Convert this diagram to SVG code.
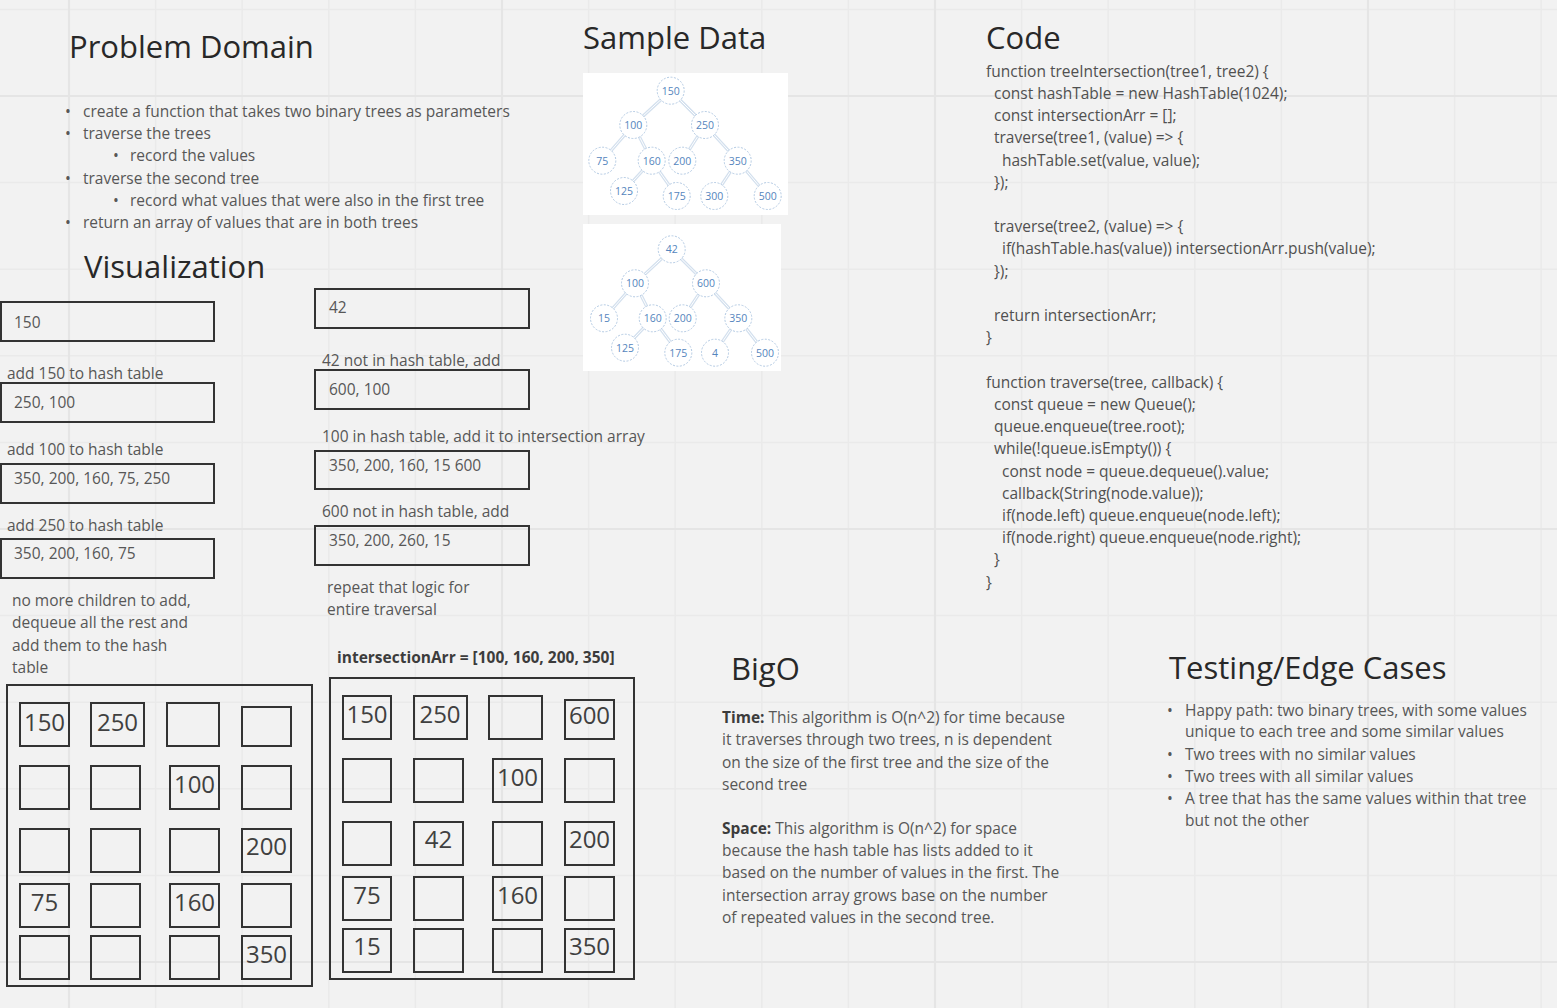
<svg xmlns="http://www.w3.org/2000/svg" width="1557" height="1008" viewBox="0 0 1557 1008">
<style>
text{font-family:"Open Sans","Liberation Sans",sans-serif;}
.title{font-size:31px;fill:#282828;}
.body{font-size:15.5px;fill:#575757;}
.code{font-size:15.5px;fill:#505050;}
.bold{font-weight:bold;fill:#3c3c3c;}
.box{fill:none;stroke:#333;stroke-width:2;}
.cell{fill:none;stroke:#333;stroke-width:2;}
.num{font-size:24px;fill:#404040;text-anchor:middle;}
.tn{fill:#fff;stroke:#b3cae3;stroke-width:1;stroke-dasharray:2 1.5;}
.tt{font-size:10.5px;fill:#5585bd;text-anchor:middle;}
.edge{stroke:#d3e0ee;stroke-width:3.2;}
.edgei{stroke:#ffffff;stroke-width:1;}
.panel{fill:#ffffff;}
</style>
<rect x="0" y="0" width="1557" height="1008" fill="#f2f2f2"/>
<g id="grid" fill="none">
<path stroke="#eaeaea" stroke-width="1.5" d="M155.6 0V1008M242.2 0V1008M328.8 0V1008M415.4 0V1008M588.6 0V1008M675.2 0V1008M761.8 0V1008M848.4 0V1008M1021.6 0V1008M1108.2 0V1008M1194.8 0V1008M1281.4 0V1008M1454.6 0V1008M1541.2 0V1008M0 9.4H1557M0 182.6H1557M0 269.2H1557M0 355.8H1557M0 442.4H1557M0 615.6H1557M0 702.2H1557M0 788.8H1557M0 875.4H1557"/>
<path stroke="#e5e5e5" stroke-width="2.2" d="M69 0V1008M502 0V1008M935 0V1008M1368 0V1008M0 96H1557M0 529H1557M0 962H1557"/>
</g>

<g id="problem-domain">
<text class="title" x="69" y="58">Problem Domain</text>
<g class="body">
<text x="65" y="117">•</text><text x="83" y="117">create a function that takes two binary trees as parameters</text>
<text x="65" y="139">•</text><text x="83" y="139">traverse the trees</text>
<text x="113" y="161">•</text><text x="130" y="161">record the values</text>
<text x="65" y="184">•</text><text x="83" y="184">traverse the second tree</text>
<text x="113" y="206">•</text><text x="130" y="206">record what values that were also in the first tree</text>
<text x="65" y="228">•</text><text x="83" y="228">return an array of values that are in both trees</text>
</g>
</g>

<g id="visualization-title"><text class="title" x="84" y="278">Visualization</text></g>

<g id="queue1">
<rect class="box" x="1" y="302" width="213" height="39"/><text class="body" x="14" y="328">150</text>
<text class="body" x="7" y="379">add 150 to hash table</text>
<rect class="box" x="1" y="383" width="213" height="39"/><text class="body" x="14" y="408">250, 100</text>
<text class="body" x="7" y="455">add 100 to hash table</text>
<rect class="box" x="1" y="464" width="213" height="39"/><text class="body" x="14" y="484">350, 200, 160, 75, 250</text>
<text class="body" x="7" y="531">add 250 to hash table</text>
<rect class="box" x="1" y="539" width="213" height="39"/><text class="body" x="14" y="559">350, 200, 160, 75</text>
<text class="body" x="12" y="606">no more children to add,</text>
<text class="body" x="12" y="628">dequeue all the rest and</text>
<text class="body" x="12" y="651">add them to the hash</text>
<text class="body" x="12" y="673">table</text>
</g>

<g id="queue2">
<rect class="box" x="315" y="289" width="214" height="39"/><text class="body" x="329" y="313">42</text>
<text class="body" x="322" y="366">42 not in hash table, add</text>
<rect class="box" x="315" y="370" width="214" height="39"/><text class="body" x="329" y="395">600, 100</text>
<text class="body" x="322" y="442">100 in hash table, add it to intersection array</text>
<rect class="box" x="315" y="451" width="214" height="38"/><text class="body" x="329" y="471">350, 200, 160, 15 600</text>
<text class="body" x="322" y="517">600 not in hash table, add</text>
<rect class="box" x="315" y="526" width="214" height="39"/><text class="body" x="329" y="546">350, 200, 260, 15</text>
<text class="body" x="327" y="593">repeat that logic for</text>
<text class="body" x="327" y="615">entire traversal</text>
<text class="body bold" x="337" y="663">intersectionArr = [100, 160, 200, 350]</text>
</g>

<g id="hash-table-1">
<rect class="box" x="7" y="685" width="305" height="301"/>
<rect class="cell" x="20" y="703" width="49" height="43"/>
<rect class="cell" x="91" y="703" width="53" height="43"/>
<rect class="cell" x="167" y="703" width="52" height="43"/>
<rect class="cell" x="242" y="707" width="49" height="39"/>
<rect class="cell" x="20" y="766" width="49" height="43"/>
<rect class="cell" x="91" y="766" width="49" height="43"/>
<rect class="cell" x="170" y="766" width="49" height="43"/>
<rect class="cell" x="242" y="766" width="49" height="43"/>
<rect class="cell" x="20" y="829" width="49" height="43"/>
<rect class="cell" x="91" y="829" width="49" height="43"/>
<rect class="cell" x="170" y="829" width="49" height="43"/>
<rect class="cell" x="242" y="829" width="49" height="43"/>
<rect class="cell" x="20" y="884" width="49" height="43"/>
<rect class="cell" x="91" y="884" width="49" height="43"/>
<rect class="cell" x="170" y="884" width="49" height="43"/>
<rect class="cell" x="242" y="884" width="49" height="43"/>
<rect class="cell" x="20" y="936" width="49" height="43"/>
<rect class="cell" x="91" y="936" width="49" height="43"/>
<rect class="cell" x="170" y="936" width="49" height="43"/>
<rect class="cell" x="242" y="936" width="49" height="43"/>
<text class="num" x="44.5" y="731">150</text>
<text class="num" x="117.5" y="731">250</text>
<text class="num" x="194.5" y="793">100</text>
<text class="num" x="266.5" y="855">200</text>
<text class="num" x="44.5" y="911">75</text>
<text class="num" x="194.5" y="911">160</text>
<text class="num" x="266.5" y="963">350</text>
</g>

<g id="hash-table-2">
<rect class="box" x="330" y="678" width="304" height="301"/>
<rect class="cell" x="343" y="696" width="48" height="43"/>
<rect class="cell" x="414" y="696" width="53" height="43"/>
<rect class="cell" x="489" y="696" width="53" height="43"/>
<rect class="cell" x="565" y="700" width="49" height="39"/>
<rect class="cell" x="343" y="759" width="48" height="43"/>
<rect class="cell" x="414" y="759" width="49" height="43"/>
<rect class="cell" x="493" y="759" width="49" height="43"/>
<rect class="cell" x="565" y="759" width="49" height="43"/>
<rect class="cell" x="343" y="822" width="48" height="43"/>
<rect class="cell" x="414" y="822" width="49" height="43"/>
<rect class="cell" x="493" y="822" width="49" height="43"/>
<rect class="cell" x="565" y="822" width="49" height="43"/>
<rect class="cell" x="343" y="877" width="48" height="43"/>
<rect class="cell" x="414" y="877" width="49" height="43"/>
<rect class="cell" x="493" y="877" width="49" height="43"/>
<rect class="cell" x="565" y="877" width="49" height="43"/>
<rect class="cell" x="343" y="929" width="48" height="43"/>
<rect class="cell" x="414" y="929" width="49" height="43"/>
<rect class="cell" x="493" y="929" width="49" height="43"/>
<rect class="cell" x="565" y="929" width="49" height="43"/>
<text class="num" x="367" y="723">150</text>
<text class="num" x="440" y="723">250</text>
<text class="num" x="589.5" y="724">600</text>
<text class="num" x="517.5" y="786">100</text>
<text class="num" x="438.5" y="848">42</text>
<text class="num" x="589.5" y="848">200</text>
<text class="num" x="367" y="904">75</text>
<text class="num" x="517.5" y="904">160</text>
<text class="num" x="367" y="955">15</text>
<text class="num" x="589.5" y="955">350</text>
</g>

<g id="sample-data-title"><text class="title" x="583" y="49">Sample Data</text></g>
<rect class="panel" x="583" y="73" width="205" height="142"/>
<rect class="panel" x="583" y="224" width="198" height="147"/>

<g id="connectors">
<g class="edge">
<line x1="670.7" y1="90.7" x2="633.3" y2="125"/><line x1="670.7" y1="90.7" x2="705" y2="125"/>
<line x1="633.3" y1="125" x2="602.3" y2="160.7"/><line x1="633.3" y1="125" x2="651.7" y2="160.7"/>
<line x1="705" y1="125" x2="682.3" y2="160.7"/><line x1="705" y1="125" x2="737.7" y2="160.7"/>
<line x1="651.7" y1="160.7" x2="624" y2="191"/><line x1="651.7" y1="160.7" x2="676.7" y2="196"/>
<line x1="737.7" y1="160.7" x2="714.3" y2="196"/><line x1="737.7" y1="160.7" x2="767.7" y2="196"/>
<line x1="671.7" y1="249.3" x2="635" y2="283.3"/><line x1="671.7" y1="249.3" x2="706" y2="283.3"/>
<line x1="635" y1="283.3" x2="604" y2="318.3"/><line x1="635" y1="283.3" x2="652.7" y2="318.3"/>
<line x1="706" y1="283.3" x2="682.7" y2="318.3"/><line x1="706" y1="283.3" x2="738.3" y2="318.3"/>
<line x1="652.7" y1="318.3" x2="625" y2="347.7"/><line x1="652.7" y1="318.3" x2="678.3" y2="352.7"/>
<line x1="738.3" y1="318.3" x2="715" y2="352.7"/><line x1="738.3" y1="318.3" x2="765" y2="352.7"/>
</g>
<g class="edgei">
<line x1="670.7" y1="90.7" x2="633.3" y2="125"/><line x1="670.7" y1="90.7" x2="705" y2="125"/>
<line x1="633.3" y1="125" x2="602.3" y2="160.7"/><line x1="633.3" y1="125" x2="651.7" y2="160.7"/>
<line x1="705" y1="125" x2="682.3" y2="160.7"/><line x1="705" y1="125" x2="737.7" y2="160.7"/>
<line x1="651.7" y1="160.7" x2="624" y2="191"/><line x1="651.7" y1="160.7" x2="676.7" y2="196"/>
<line x1="737.7" y1="160.7" x2="714.3" y2="196"/><line x1="737.7" y1="160.7" x2="767.7" y2="196"/>
<line x1="671.7" y1="249.3" x2="635" y2="283.3"/><line x1="671.7" y1="249.3" x2="706" y2="283.3"/>
<line x1="635" y1="283.3" x2="604" y2="318.3"/><line x1="635" y1="283.3" x2="652.7" y2="318.3"/>
<line x1="706" y1="283.3" x2="682.7" y2="318.3"/><line x1="706" y1="283.3" x2="738.3" y2="318.3"/>
<line x1="652.7" y1="318.3" x2="625" y2="347.7"/><line x1="652.7" y1="318.3" x2="678.3" y2="352.7"/>
<line x1="738.3" y1="318.3" x2="715" y2="352.7"/><line x1="738.3" y1="318.3" x2="765" y2="352.7"/>
</g>
</g>

<g id="t1-150"><circle class="tn" cx="670.7" cy="90.7" r="13.5"/><text class="tt" x="670.7" y="94.5">150</text></g>
<g id="t1-100"><circle class="tn" cx="633.3" cy="125" r="13.5"/><text class="tt" x="633.3" y="128.8">100</text></g>
<g id="t1-250"><circle class="tn" cx="705" cy="125" r="13.5"/><text class="tt" x="705" y="128.8">250</text></g>
<g id="t1-75"><circle class="tn" cx="602.3" cy="160.7" r="13.5"/><text class="tt" x="602.3" y="164.5">75</text></g>
<g id="t1-160"><circle class="tn" cx="651.7" cy="160.7" r="13.5"/><text class="tt" x="651.7" y="164.5">160</text></g>
<g id="t1-200"><circle class="tn" cx="682.3" cy="160.7" r="13.5"/><text class="tt" x="682.3" y="164.5">200</text></g>
<g id="t1-350"><circle class="tn" cx="737.7" cy="160.7" r="13.5"/><text class="tt" x="737.7" y="164.5">350</text></g>
<g id="t1-125"><circle class="tn" cx="624" cy="191" r="13.5"/><text class="tt" x="624" y="194.8">125</text></g>
<g id="t1-175"><circle class="tn" cx="676.7" cy="196" r="13.5"/><text class="tt" x="676.7" y="199.8">175</text></g>
<g id="t1-300"><circle class="tn" cx="714.3" cy="196" r="13.5"/><text class="tt" x="714.3" y="199.8">300</text></g>
<g id="t1-500"><circle class="tn" cx="767.7" cy="196" r="13.5"/><text class="tt" x="767.7" y="199.8">500</text></g>

<g id="t2-42"><circle class="tn" cx="671.7" cy="249.3" r="13.5"/><text class="tt" x="671.7" y="253.1">42</text></g>
<g id="t2-100"><circle class="tn" cx="635" cy="283.3" r="13.5"/><text class="tt" x="635" y="287.1">100</text></g>
<g id="t2-600"><circle class="tn" cx="706" cy="283.3" r="13.5"/><text class="tt" x="706" y="287.1">600</text></g>
<g id="t2-15"><circle class="tn" cx="604" cy="318.3" r="13.5"/><text class="tt" x="604" y="322.1">15</text></g>
<g id="t2-160"><circle class="tn" cx="652.7" cy="318.3" r="13.5"/><text class="tt" x="652.7" y="322.1">160</text></g>
<g id="t2-200"><circle class="tn" cx="682.7" cy="318.3" r="13.5"/><text class="tt" x="682.7" y="322.1">200</text></g>
<g id="t2-350"><circle class="tn" cx="738.3" cy="318.3" r="13.5"/><text class="tt" x="738.3" y="322.1">350</text></g>
<g id="t2-125"><circle class="tn" cx="625" cy="347.7" r="13.5"/><text class="tt" x="625" y="351.5">125</text></g>
<g id="t2-175"><circle class="tn" cx="678.3" cy="352.7" r="13.5"/><text class="tt" x="678.3" y="356.5">175</text></g>
<g id="t2-4"><circle class="tn" cx="715" cy="352.7" r="13.5"/><text class="tt" x="715" y="356.5">4</text></g>
<g id="t2-500"><circle class="tn" cx="765" cy="352.7" r="13.5"/><text class="tt" x="765" y="356.5">500</text></g>

<g id="code">
<text class="title" x="986" y="49">Code</text>
<g class="code">
<text x="986" y="77">function treeIntersection(tree1, tree2) {</text>
<text x="994" y="99">const hashTable = new HashTable(1024);</text>
<text x="994" y="121">const intersectionArr = [];</text>
<text x="994" y="143">traverse(tree1, (value) =&gt; {</text>
<text x="1002" y="166">hashTable.set(value, value);</text>
<text x="994" y="188">});</text>
<text x="994" y="232">traverse(tree2, (value) =&gt; {</text>
<text x="1002" y="254">if(hashTable.has(value)) intersectionArr.push(value);</text>
<text x="994" y="277">});</text>
<text x="994" y="321">return intersectionArr;</text>
<text x="986" y="343">}</text>
<text x="986" y="388">function traverse(tree, callback) {</text>
<text x="994" y="410">const queue = new Queue();</text>
<text x="994" y="432">queue.enqueue(tree.root);</text>
<text x="994" y="454">while(!queue.isEmpty()) {</text>
<text x="1002" y="477">const node = queue.dequeue().value;</text>
<text x="1002" y="499">callback(String(node.value));</text>
<text x="1002" y="521">if(node.left) queue.enqueue(node.left);</text>
<text x="1002" y="543">if(node.right) queue.enqueue(node.right);</text>
<text x="994" y="565">}</text>
<text x="986" y="588">}</text>
</g>
</g>

<g id="bigo">
<text class="title" x="731" y="680">BigO</text>
<g class="body">
<text x="722" y="723"><tspan class="bold">Time:</tspan> This algorithm is O(n^2) for time because</text>
<text x="722" y="745">it traverses through two trees, n is dependent</text>
<text x="722" y="768">on the size of the first tree and the size of the</text>
<text x="722" y="790">second tree</text>
<text x="722" y="834"><tspan class="bold">Space:</tspan> This algorithm is O(n^2) for space</text>
<text x="722" y="856">because the hash table has lists added to it</text>
<text x="722" y="878">based on the number of values in the first. The</text>
<text x="722" y="901">intersection array grows base on the number</text>
<text x="722" y="923">of repeated values in the second tree.</text>
</g>
</g>

<g id="testing">
<text class="title" x="1169" y="679">Testing/Edge Cases</text>
<g class="body">
<text x="1167" y="716">•</text><text x="1185" y="716">Happy path: two binary trees, with some values</text>
<text x="1185" y="737">unique to each tree and some similar values</text>
<text x="1167" y="760">•</text><text x="1185" y="760">Two trees with no similar values</text>
<text x="1167" y="782">•</text><text x="1185" y="782">Two trees with all similar values</text>
<text x="1167" y="804">•</text><text x="1185" y="804">A tree that has the same values within that tree</text>
<text x="1185" y="826">but not the other</text>
</g>
</g>
</svg>
